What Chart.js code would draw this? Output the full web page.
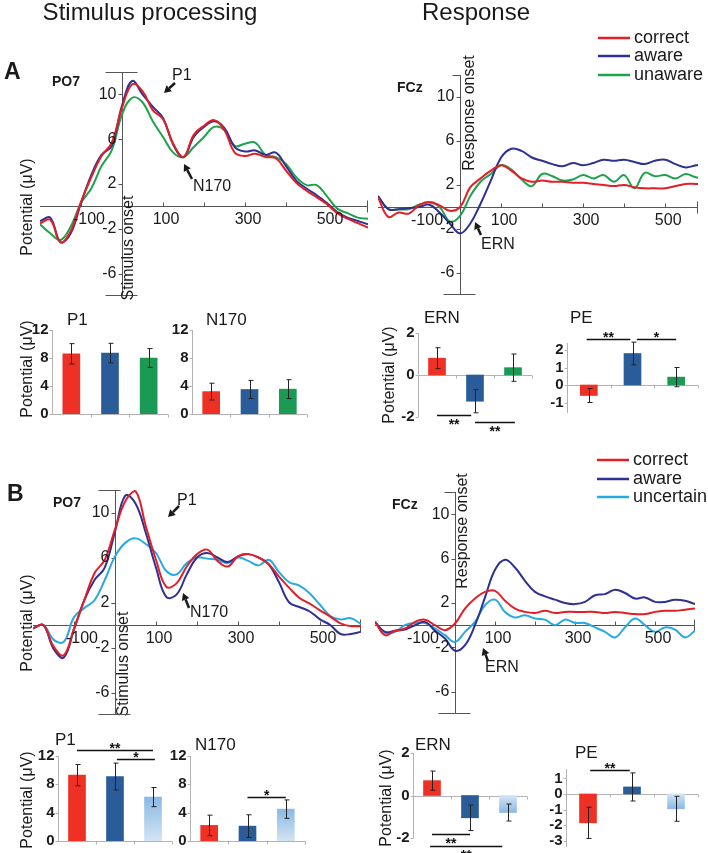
<!DOCTYPE html>
<html>
<head>
<meta charset="utf-8">
<script src="https://cdn.jsdelivr.net/npm/chart.js@4.4.0/dist/chart.umd.min.js"></script>
<style>
  body { margin: 0; background: #fff; }
  #fig { position: relative; width: 708px; height: 853px; }
  #fig canvas { position: absolute; left: 0; top: 0; }
</style>
</head>
<body>
<div id="fig"></div>
<script>
const W = 708, H = 853;
const FONT = "'Liberation Sans', Arial, Helvetica, sans-serif";
const AXIS = '#555', INK = '#1a1a1a';

// ---- waveforms: time (ms) and potential (µV) ----
const tWave = [-200, -175, -150, -125, -100, -75, -50, -25, 0, 25, 50, 75, 100, 125, 150, 175,
  200, 225, 250, 275, 300, 325, 350, 375, 400, 425, 450, 475, 500, 525, 550, 575, 600];
const waveYTicks = [-6, -2, 2, 6, 10];
const waveXTicks = [-100, 100, 300, 500];
const waveXMarks = [-100, 0, 100, 200, 300, 400, 500];

// panel A, PO7 (stimulus locked)
const poA_correct = [-1.5, -1.2, -3.2, -2.2, 0.4, 2.6, 4.5, 5.7, 8.8, 10.9, 10.3, 8.6, 7.8, 5.6, 4.4, 6.4,
  7.2, 7.7, 6.8, 4.8, 4.5, 4.7, 4.4, 4.3, 3.2, 2.1, 1.4, 0.8, 0.2, -0.6, -1.1, -1.5, -1.9];
const poA_aware = [-1.3, -1.0, -3.2, -2.4, 0.3, 2.8, 4.6, 5.4, 9.0, 11.2, 10.0, 8.9, 7.9, 5.5, 4.4, 6.2,
  7.1, 7.6, 7.0, 5.3, 4.9, 5.0, 4.6, 4.8, 3.6, 2.3, 1.6, 1.0, 0.3, -0.5, -1.0, -1.3, -1.6];
const poA_unaware = [-1.6, -2.4, -3.0, -1.8, 0.3, 1.6, 3.6, 5.0, 8.2, 9.7, 9.3, 7.6, 6.2, 4.8, 4.4, 5.3,
  6.2, 7.1, 6.8, 5.4, 5.6, 5.7, 4.6, 4.4, 3.8, 2.6, 1.9, 1.9, 0.9, -0.2, -0.6, -1.0, -1.1];

// panel A, FCz (response locked)
const fcA_correct = [0.9, -0.9, -0.5, -0.6, 0.15, 0.45, 0.15, -0.35, 0.0, 1.8, 2.6, 3.3, 3.8, 3.3, 2.6, 2.3,
  2.4, 2.3, 2.3, 2.2, 2.2, 2.1, 2.0, 1.9, 2.0, 1.8, 1.7, 1.7, 1.7, 1.9, 2.1, 2.1, 2.1];
const fcA_aware = [1.0, -0.2, -0.2, -0.1, 0.0, 0.2, -0.5, -1.5, -2.4, -1.5, 0.3, 2.4, 4.5, 5.3, 5.1, 4.5,
  4.2, 3.9, 3.7, 4.0, 3.8, 4.0, 4.3, 4.2, 4.3, 4.1, 3.9, 4.2, 4.3, 3.9, 3.6, 3.8, 3.9];
const fcA_unaware = [1.0, -0.2, -0.2, -0.2, 0.2, 0.4, 0.0, -1.3, -0.8, 1.0, 2.3, 3.0, 3.8, 3.4, 2.5, 1.9,
  3.0, 2.8, 2.4, 2.5, 2.9, 2.6, 2.9, 2.3, 2.9, 1.7, 3.1, 2.8, 2.9, 2.6, 3.0, 2.7, 2.6];

// panel B, PO7
const poB_correct = [-0.3, 0.0, -1.9, -2.7, -0.3, 2.2, 4.6, 5.8, 8.5, 11.0, 11.9, 8.8, 5.8, 3.4, 3.7, 5.2,
  6.3, 6.7, 5.7, 5.2, 6.1, 6.3, 6.0, 5.4, 4.3, 3.3, 2.4, 1.9, 1.3, 0.75, 0.15, -0.1, -0.1];
const poB_aware = [-0.3, 0.0, -2.1, -2.9, -0.4, 2.2, 4.0, 5.1, 8.3, 11.5, 10.8, 8.2, 5.1, 2.5, 2.7, 4.5,
  6.0, 6.4, 6.0, 5.6, 6.1, 6.3, 6.0, 5.4, 3.8, 2.0, 1.6, 1.2, 0.5, 0.0, -0.8, -0.8, -0.6];
const poB_uncertain = [-0.3, 0.0, -1.3, -1.5, 0.7, 1.5, 2.2, 4.0, 6.1, 7.3, 7.7, 7.2, 6.4, 4.8, 4.5, 5.5,
  6.0, 5.9, 5.8, 5.5, 6.0, 5.7, 5.3, 5.8, 4.7, 3.8, 3.5, 2.8, 1.8, 0.8, 0.5, 0.6, 0.1];

// panel B, FCz
const fcB_correct = [0.3, -0.9, -0.5, -0.3, 0.3, 0.5, 0.0, -0.45, 0.15, 1.5, 2.4, 3.0, 3.1, 2.2, 1.5, 1.2,
  1.1, 1.3, 1.1, 1.2, 1.2, 1.2, 1.2, 1.1, 1.2, 1.1, 1.0, 1.0, 1.2, 1.3, 1.3, 1.4, 1.5];
const fcB_aware = [0.3, -0.6, -0.5, -0.4, 0.0, 0.3, -0.5, -1.2, -2.3, -1.8, 0.0, 2.5, 5.0, 5.9, 5.2, 4.0,
  3.0, 2.6, 2.3, 2.0, 1.9, 2.1, 2.7, 2.8, 3.2, 2.9, 2.4, 2.5, 2.1, 2.1, 2.3, 2.2, 1.9];
const fcB_uncertain = [0.3, -0.7, -0.6, 0.0, 0.2, 0.2, -0.3, -0.9, -1.5, -0.6, 0.3, 1.8, 2.3, 1.2, 0.7, 0.9,
  0.6, 0.5, 0.0, 0.5, 0.2, 0.2, -0.2, -0.6, -1.1, -0.2, 0.6, 0.0, -0.6, -0.2, -0.4, -1.1, -0.5];

// ---- bar graphs: mean amplitude and error ----
const condA = ['correct', 'aware', 'unaware'];
const condB = ['correct', 'aware', 'uncertain'];
const ampTicks = [0, 4, 8, 12];
const ernTicks = [-2, 0, 2];
const peTicksA = [-1, 0, 1, 2];
const peTicksB = [-3, -2, -1, 0, 1];

const p1A = [8.6, 8.7, 8.0], p1A_err = [1.45, 1.4, 1.35];
const n170A = [3.2, 3.5, 3.55], n170A_err = [1.2, 1.3, 1.35];
const ernA = [0.8, -1.25, 0.35], ernA_err = [0.5, 0.55, 0.65];
const peA = [-0.6, 1.8, 0.45], peA_err = [0.4, 0.65, 0.55];
const p1B = [9.3, 9.1, 6.2], p1B_err = [1.5, 1.9, 1.35];
const n170B = [2.2, 2.1, 4.5], n170B_err = [1.45, 1.6, 1.3];
const ernB = [0.7, -1.05, -0.8], ernB_err = [0.45, 0.6, 0.4];
const peB = [-1.85, 0.45, -0.95], peB_err = [1.0, 0.9, 0.8];

// significance: [from, to (category units), level, stars, above?]
const sigErnA = [[0, 0.9, -1.9, '**', false], [1, 2.05, -2.24, '**', false]];
const sigPeA = [[-0.05, 0.95, 2.63, '**', true], [1.1, 2.0, 2.63, '*', true]];
const sigP1B = [[0, 2.0, 12.85, '**', true], [1.05, 2.05, 11.6, '*', true]];
const sigN170B = [[1, 2, 6.2, '*', true]];
const sigErnB = [[0, 1, -1.8, '**', false], [-0.05, 1.85, -2.38, '**', false]];
const sigPeB = [[0.05, 0.95, 1.55, '**', true]];

const RED = '#e41e26', NAVY = '#2e3192', GREEN = '#1ea24d', CYAN = '#27aae1';
const BAR_RED = '#ee3124', BAR_BLUE = '#2a5c9a', BAR_GREEN = '#1b9a56';

function makeCanvas() {
  const c = document.createElement('canvas');
  c.width = W; c.height = H;
  c.style.width = W + 'px'; c.style.height = H + 'px';
  document.getElementById('fig').appendChild(c);
  return c;
}
function pad(r) { return { left: r[0], top: r[1], right: W - r[2], bottom: H - r[3] }; }

function text(ctx, s, x, y, font, align) {
  ctx.font = font + ' ' + FONT;
  ctx.textAlign = align || 'left';
  ctx.textBaseline = 'middle';
  ctx.fillText(s, x, y);
}
function vtext(ctx, s, x, y, font) {
  ctx.save();
  ctx.translate(x, y);
  ctx.rotate(-Math.PI / 2);
  text(ctx, s, 0, 0, font, 'center');
  ctx.restore();
}
function arrow(ctx, x1, y1, x2, y2) {
  const a = Math.atan2(y2 - y1, x2 - x1), L = 7, w = 4;
  const bx = x2 - L * Math.cos(a), by = y2 - L * Math.sin(a);
  ctx.lineWidth = 2.5;
  ctx.beginPath(); ctx.moveTo(x1, y1); ctx.lineTo(bx, by); ctx.stroke();
  ctx.beginPath();
  ctx.moveTo(x2, y2);
  ctx.lineTo(bx + w * Math.sin(a), by - w * Math.cos(a));
  ctx.lineTo(bx - w * Math.sin(a), by + w * Math.cos(a));
  ctx.closePath(); ctx.fill();
}
function legend(ctx, names, colors, x, ys) {
  names.forEach((n, i) => {
    ctx.strokeStyle = colors[i]; ctx.lineWidth = 2.5;
    ctx.beginPath(); ctx.moveTo(x, ys[i]); ctx.lineTo(x + 32, ys[i]); ctx.stroke();
    ctx.fillStyle = INK;
    text(ctx, n, x + 36, ys[i], '18px');
  });
}

// axes crossing at (0 ms, 0 µV)
function waveAxes(capTop) {
  return {
    id: 'waveAxes',
    beforeDatasetsDraw(chart) {
      const { ctx, chartArea: a, scales: { x, y } } = chart;
      const x0 = Math.round(x.getPixelForValue(0)) + 0.5;
      const y0 = Math.round(y.getPixelForValue(0)) + 0.5;
      ctx.save();
      ctx.strokeStyle = AXIS; ctx.lineWidth = 1;
      ctx.beginPath();
      ctx.moveTo(a.left, y0); ctx.lineTo(a.right, y0);
      ctx.moveTo(x0, a.top); ctx.lineTo(x0, a.bottom);
      ctx.moveTo(x0 + capTop[0], Math.round(a.top) + 0.5); ctx.lineTo(x0 + capTop[1], Math.round(a.top) + 0.5);
      ctx.moveTo(x0 - 17, Math.round(a.bottom) - 0.5); ctx.lineTo(x0 + 15, Math.round(a.bottom) - 0.5);
      ctx.moveTo(Math.round(a.right) - 0.5, y0 - 6); ctx.lineTo(Math.round(a.right) - 0.5, y0 + 6);
      waveXMarks.forEach(v => {
        const px = Math.round(x.getPixelForValue(v)) + 0.5;
        ctx.moveTo(px, y0); ctx.lineTo(px, y0 - 4);
      });
      waveYTicks.forEach(v => {
        const py = Math.round(y.getPixelForValue(v)) + 0.5;
        ctx.moveTo(x0 - 4, py); ctx.lineTo(x0, py);
      });
      ctx.stroke();
      ctx.restore();
    },
    afterDatasetsDraw(chart) {
      const { ctx, scales: { x, y } } = chart;
      const x0 = Math.round(x.getPixelForValue(0)) + 0.5;
      const y0 = Math.round(y.getPixelForValue(0)) + 0.5;
      ctx.save();
      ctx.fillStyle = INK;
      waveYTicks.forEach(v => text(ctx, String(v), x0 - 6, y.getPixelForValue(v), '16px', 'right'));
      waveXTicks.forEach(v => text(ctx, String(v), x.getPixelForValue(v) + (v < 0 ? 8 : 3), y0 + 13, '16px', 'center'));
      ctx.restore();
    }
  };
}

function waveChart(rect, xMax, series, colors, capTop, extra) {
  const plugins = [waveAxes(capTop)];
  if (extra) plugins.push(extra);
  return new Chart(makeCanvas(), {
    type: 'line',
    data: {
      datasets: series.map((s, i) => ({
        data: tWave.map((t, j) => ({ x: t, y: s[j] })),
        borderColor: colors[i], borderWidth: 2, pointRadius: 0, tension: 0.4, fill: false
      }))
    },
    options: {
      responsive: false, animation: false, devicePixelRatio: 1, events: [],
      layout: { padding: pad(rect) },
      scales: {
        x: { type: 'linear', min: -200, max: xMax, display: false },
        y: { type: 'linear', min: -8, max: 12, display: false }
      },
      plugins: { legend: { display: false }, tooltip: { enabled: false } }
    },
    plugins
  });
}

function barDeco(cats, ticks, values, errs, sig) {
  return {
    id: 'barDeco',
    beforeDatasetsDraw(chart) {
      const { ctx, chartArea: a, scales: { y } } = chart;
      const y0 = Math.round(y.getPixelForValue(0)) + 0.5;
      const xl = Math.round(a.left) + 0.5;
      const step = (a.right - a.left) / cats.length;
      ctx.save();
      ctx.strokeStyle = '#b3b3b3'; ctx.lineWidth = 1;
      ctx.beginPath();
      ctx.moveTo(xl, a.top); ctx.lineTo(xl, a.bottom);
      ticks.forEach(v => {
        const py = Math.round(y.getPixelForValue(v)) + 0.5;
        ctx.moveTo(xl - 3, py); ctx.lineTo(xl, py);
      });
      ctx.moveTo(a.left, y0); ctx.lineTo(a.right, y0);
      for (let i = 1; i <= cats.length; i++) {
        const px = Math.round(a.left + i * step) + 0.5;
        ctx.moveTo(px, y0); ctx.lineTo(px, y0 + 3);
      }
      ctx.stroke();
      ctx.fillStyle = INK;
      ticks.forEach(v => text(ctx, String(v), xl - 4, y.getPixelForValue(v), 'bold 15px', 'right'));
      ctx.restore();
    },
    afterDatasetsDraw(chart) {
      const { ctx, chartArea: a, scales: { y } } = chart;
      const bars = chart.getDatasetMeta(0).data;
      const step = (a.right - a.left) / cats.length;
      ctx.save();
      ctx.strokeStyle = '#222'; ctx.lineWidth = 1;
      ctx.beginPath();
      bars.forEach((b, i) => {
        const bx = Math.round(b.x) + 0.5;
        const t = y.getPixelForValue(values[i] + errs[i]);
        const bt = y.getPixelForValue(values[i] - errs[i]);
        ctx.moveTo(bx, t); ctx.lineTo(bx, bt);
        ctx.moveTo(bx - 2, t); ctx.lineTo(bx + 3, t);
        ctx.moveTo(bx - 2, bt); ctx.lineTo(bx + 3, bt);
      });
      ctx.stroke();
      ctx.strokeStyle = '#111'; ctx.fillStyle = '#111'; ctx.lineWidth = 1.5;
      sig.forEach(([f, t, lev, lab, above]) => {
        const x1 = a.left + (f + 0.5) * step, x2 = a.left + (t + 0.5) * step;
        const py = Math.round(y.getPixelForValue(lev)) + 0.5;
        ctx.beginPath(); ctx.moveTo(x1, py); ctx.lineTo(x2, py); ctx.stroke();
        ctx.font = 'bold 14px ' + FONT; ctx.textAlign = 'center'; ctx.textBaseline = 'alphabetic';
        ctx.fillText(lab, (x1 + x2) / 2, py + (above ? -6 : 5) + 8);
      });
      ctx.restore();
    }
  };
}

function barChart(rect, yMin, yMax, cats, ticks, values, errs, colors, sig) {
  return new Chart(makeCanvas(), {
    type: 'bar',
    data: {
      labels: cats,
      datasets: [{
        data: values,
        borderWidth: 0,
        barThickness: 17,
        backgroundColor: c => {
          const col = colors[c.dataIndex];
          if (col !== 'grad') return col;
          const ch = c.chart, y = ch.scales.y;
          if (!y || !ch.chartArea) return '#9fc5ea';
          const g = ch.ctx.createLinearGradient(0, y.getPixelForValue(0), 0, y.getPixelForValue(values[c.dataIndex]));
          g.addColorStop(0, '#d3e4f4');
          g.addColorStop(1, '#8ab9e4');
          return g;
        }
      }]
    },
    options: {
      responsive: false, animation: false, devicePixelRatio: 1, events: [],
      layout: { padding: pad(rect) },
      scales: {
        x: { type: 'category', display: false, offset: true },
        y: { type: 'linear', min: yMin, max: yMax, display: false }
      },
      plugins: { legend: { display: false }, tooltip: { enabled: false } }
    },
    plugins: [barDeco(cats, ticks, values, errs, sig)]
  });
}

// figure-wide text, labels and arrows
const figureText = {
  id: 'figureText',
  afterDraw(chart) {
    const ctx = chart.ctx;
    ctx.save();
    ctx.fillStyle = INK; ctx.strokeStyle = INK;
    text(ctx, 'Stimulus processing', 150, 13, '24px', 'center');
    text(ctx, 'Response', 476, 13, '24px', 'center');
    text(ctx, 'A', 4, 73, 'bold 23px');
    text(ctx, 'B', 7, 495, 'bold 23px');
    text(ctx, 'PO7', 52, 82, 'bold 14px');
    text(ctx, 'FCz', 397, 88, 'bold 14px');
    text(ctx, 'PO7', 53, 503, 'bold 14px');
    text(ctx, 'FCz', 392, 505, 'bold 14px');

    vtext(ctx, 'Stimulus onset', 129, 248, '16px');
    vtext(ctx, 'Response onset', 470, 113, '16px');
    vtext(ctx, 'Stimulus onset', 124, 664, '16px');
    vtext(ctx, 'Response onset', 463, 531, '16px');

    [[28, 207], [28, 369], [390, 375], [28, 623], [28, 800], [387, 798]]
      .forEach(([x, y]) => vtext(ctx, 'Potential (\u03bcV)', x, y, '16px'));

    text(ctx, 'P1', 67, 320, '17px');
    text(ctx, 'N170', 206, 320, '17px');
    text(ctx, 'ERN', 424, 318, '17px');
    text(ctx, 'PE', 570, 318, '17px');
    text(ctx, 'P1', 55, 740, '17px');
    text(ctx, 'N170', 195, 745, '17px');
    text(ctx, 'ERN', 415, 745, '17px');
    text(ctx, 'PE', 575, 753, '17px');

    // peak markers
    arrow(ctx, 175, 83, 164, 93); text(ctx, 'P1', 172, 76, '16px');
    arrow(ctx, 192, 179, 184, 164); text(ctx, 'N170', 193, 187, '16px');
    arrow(ctx, 481, 235, 475, 222); text(ctx, 'ERN', 481, 245, '16px');
    arrow(ctx, 179, 506, 168, 517); text(ctx, 'P1', 177, 501, '16px');
    arrow(ctx, 189, 608, 183, 593); text(ctx, 'N170', 190, 613, '16px');
    arrow(ctx, 488, 661, 483, 648); text(ctx, 'ERN', 485, 668, '16px');

    legend(ctx, condA, [RED, NAVY, GREEN], 598, [38, 56, 75]);
    legend(ctx, condB, [RED, NAVY, CYAN], 597, [460, 479, 497]);
    ctx.restore();
  }
};

// ---- panel A ----
waveChart([40, 72, 368, 296], 600, [poA_correct, poA_aware, poA_unaware], [RED, NAVY, GREEN], [-17, 15], figureText);
waveChart([378, 75, 698, 295], 580, [fcA_correct, fcA_aware, fcA_unaware], [RED, NAVY, GREEN], [-8, 0]);
barChart([52, 330, 168, 414], 0, 12, condA, ampTicks, p1A, p1A_err, [BAR_RED, BAR_BLUE, BAR_GREEN], []);
barChart([192, 330, 307, 414], 0, 12, condA, ampTicks, n170A, n170A_err, [BAR_RED, BAR_BLUE, BAR_GREEN], []);
barChart([418, 333, 532, 417], -2, 2, condA, ernTicks, ernA, ernA_err, [BAR_RED, BAR_BLUE, BAR_GREEN], sigErnA);
barChart([567, 343, 698, 413], -1.6, 2.4, condA, peTicksA, peA, peA_err, [BAR_RED, BAR_BLUE, BAR_GREEN], sigPeA);

// ---- panel B ----
waveChart([33, 490, 361, 715], 600, [poB_correct, poB_aware, poB_uncertain], [RED, NAVY, CYAN], [-17, 5]);
waveChart([375, 492, 695, 714], 600, [fcB_correct, fcB_aware, fcB_uncertain], [RED, NAVY, CYAN], [-11, 0]);
barChart([58, 756, 172, 841], 0, 12, condB, ampTicks, p1B, p1B_err, [BAR_RED, BAR_BLUE, 'grad'], sigP1B);
barChart([190, 756, 305, 841], 0, 12, condB, ampTicks, n170B, n170B_err, [BAR_RED, BAR_BLUE, 'grad'], sigN170B);
barChart([413, 753, 527, 838], -2, 2, condB, ernTicks, ernB, ernB_err, [BAR_RED, BAR_BLUE, 'grad'], sigErnB);
barChart([566, 769, 698, 847], -3.4, 1.6, condB, peTicksB, peB, peB_err, [BAR_RED, BAR_BLUE, 'grad'], sigPeB);
</script>
</body>
</html>
